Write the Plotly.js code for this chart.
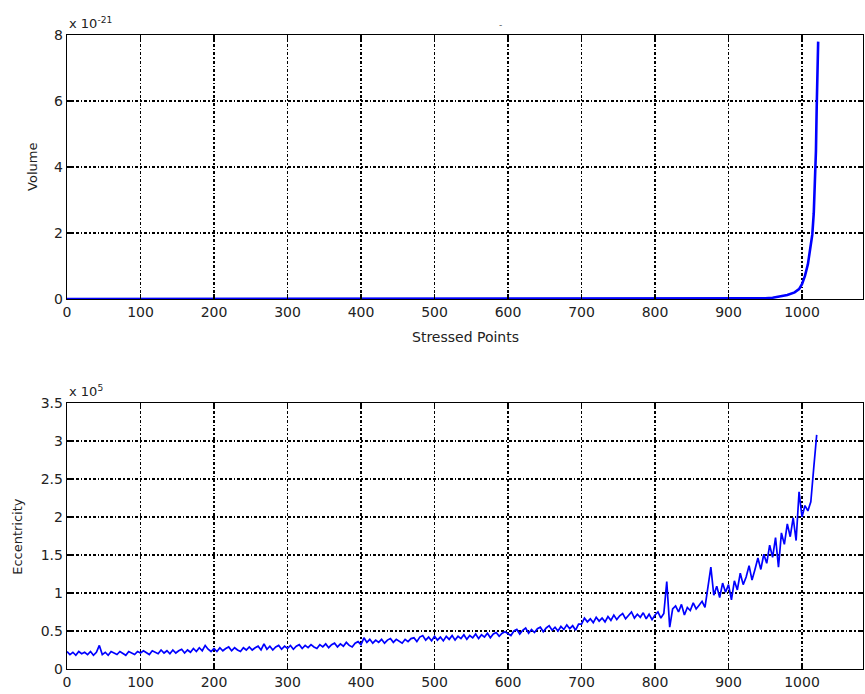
<!DOCTYPE html>
<html>
<head>
<meta charset="utf-8">
<script src="https://cdn.plot.ly/plotly-3.0.1.min.js"></script>
<style>html,body{margin:0;padding:0;background:#fff;}#chart{width:865px;height:694px;}</style>
</head>
<body>
<div id="chart"></div>
<script>
// ---- Data ----
// Top panel: Volume (units of 1e-21) versus stressed point index
const volumeX = [0, 100, 200, 300, 400, 500, 600, 700, 800, 900, 930, 950, 960, 970, 980, 990, 996, 1000, 1004, 1008, 1011, 1014, 1016, 1018, 1019, 1020, 1021, 1022];
const volumeY = [0, 0, 0, 0, 0, 0, 0, 0, 0, 0, 0.005, 0.02, 0.04, 0.07, 0.12, 0.2, 0.3, 0.45, 0.7, 1.05, 1.5, 1.95, 2.6, 3.6, 4.5, 5.8, 7.0, 7.8];

// Bottom panel: Eccentricity (units of 1e5), sampled every 4 stressed points from 0
const eccStart = 0;
const eccStep = 4;
const eccentricity = [
  0.23,0.19,0.22,0.18,0.23,0.20,0.22,0.19,0.23,0.18,0.22,0.31,0.19,0.22,0.18,0.23,0.21,0.19,0.23,0.21,0.18,0.23,0.21,0.19,0.23,
  0.21,0.24,0.21,0.19,0.24,0.22,0.20,0.25,0.21,0.24,0.20,0.25,0.21,0.24,0.26,0.21,0.25,0.22,0.27,0.23,0.28,0.24,0.31,0.26,0.23,
  0.27,0.23,0.28,0.24,0.27,0.29,0.24,0.28,0.25,0.23,0.28,0.25,0.29,0.25,0.28,0.30,0.25,0.33,0.26,0.30,0.25,0.29,0.31,0.26,0.30,
  0.27,0.31,0.26,0.30,0.32,0.27,0.31,0.28,0.32,0.29,0.27,0.32,0.29,0.33,0.28,0.32,0.34,0.29,0.33,0.30,0.35,0.31,0.29,0.34,0.36,
  0.32,0.41,0.35,0.39,0.34,0.38,0.35,0.39,0.34,0.38,0.40,0.35,0.39,0.36,0.34,0.39,0.36,0.40,0.41,0.36,0.42,0.44,0.38,0.42,0.37,
  0.43,0.38,0.42,0.37,0.43,0.39,0.44,0.38,0.43,0.40,0.45,0.39,0.44,0.41,0.46,0.40,0.45,0.42,0.47,0.41,0.46,0.48,0.43,0.47,0.49,
  0.46,0.44,0.50,0.52,0.46,0.51,0.54,0.47,0.52,0.48,0.53,0.55,0.49,0.54,0.57,0.51,0.55,0.50,0.56,0.52,0.58,0.53,0.57,0.51,0.59,
  0.59,0.67,0.62,0.66,0.61,0.68,0.63,0.67,0.62,0.69,0.64,0.71,0.65,0.70,0.73,0.66,0.71,0.75,0.67,0.72,0.68,0.74,0.66,0.72,0.65,
  0.71,0.75,0.67,0.73,1.15,0.55,0.79,0.83,0.75,0.85,0.71,0.81,0.77,0.87,0.79,0.84,0.89,0.81,1.10,1.34,0.97,1.09,0.94,1.13,1.01,
  1.11,0.91,1.16,1.04,1.26,1.11,1.21,1.36,1.17,1.31,1.46,1.31,1.51,1.39,1.63,1.47,1.73,1.34,1.79,1.64,1.91,1.74,1.99,1.69,2.33,
  2.00,2.15,2.08,2.20,2.65,3.08
];

const xTicks = [0, 100, 200, 300, 400, 500, 600, 700, 800, 900, 1000];
const volTicks = [0, 2, 4, 6, 8];
const eccTicks = [0, 0.5, 1, 1.5, 2, 2.5, 3, 3.5];
const eccTickText = ['0', '0.5', '1', '1.5', '2', '2.5', '3', '3.5'];

const eccX = eccentricity.map((_, i) => eccStart + i * eccStep);

const FONT = 'DejaVu Sans, Arial, sans-serif';
const gridDash = '3px,2px,1.5px,2px';

function axisBase() {
  return {
    showline: true, linecolor: '#000', linewidth: 1.3, mirror: 'ticks',
    ticks: 'inside', ticklen: 5, tickwidth: 1.5, tickcolor: '#000',
    showgrid: true, gridcolor: '#000', gridwidth: 1.2, griddash: gridDash,
    zeroline: false,
    tickfont: {family: FONT, size: 14, color: '#222'}
  };
}

const xAxisRange = [0, 1083];

const traces = [
  {x: volumeX, y: volumeY, type: 'scatter', mode: 'lines', line: {color: '#0000ff', width: 2.6}, xaxis: 'x', yaxis: 'y', hoverinfo: 'skip'},
  {x: eccX, y: eccentricity, type: 'scatter', mode: 'lines', line: {color: '#0000ff', width: 1.7}, xaxis: 'x2', yaxis: 'y2', hoverinfo: 'skip'}
];

const layout = {
  width: 865, height: 694,
  margin: {l: 67, r: 2, t: 35, b: 25},
  paper_bgcolor: '#fff', plot_bgcolor: '#fff',
  showlegend: false,
  font: {family: FONT, size: 14, color: '#222'},
  xaxis: Object.assign(axisBase(), {domain: [0, 1], anchor: 'y', range: xAxisRange, tickvals: xTicks, ticktext: xTicks.map(String)}),
  yaxis: Object.assign(axisBase(), {domain: [0.5836, 1], anchor: 'x', range: [0, 8], tickvals: volTicks, ticktext: volTicks.map(String)}),
  xaxis2: Object.assign(axisBase(), {domain: [0, 1], anchor: 'y2', range: xAxisRange, tickvals: xTicks, ticktext: xTicks.map(String)}),
  yaxis2: Object.assign(axisBase(), {domain: [0, 0.4196], anchor: 'x2', range: [0, 3.5], tickvals: eccTicks, ticktext: eccTickText}),
  annotations: [
    {text: 'x 10<sup>-21</sup>', xref: 'paper', yref: 'paper', x: 0, y: 1.0, xanchor: 'left', yanchor: 'bottom', yshift: 2, showarrow: false, font: {family: FONT, size: 13, color: '#222'}},
    {text: 'x 10<sup>5</sup>', xref: 'paper', yref: 'paper', x: 0, y: 0.4196, xanchor: 'left', yanchor: 'bottom', yshift: 2, showarrow: false, font: {family: FONT, size: 13, color: '#222'}},
    {text: 'Volume', xref: 'paper', yref: 'paper', x: -0.0427, y: 0.792, xanchor: 'center', yanchor: 'middle', textangle: -90, showarrow: false, font: {family: FONT, size: 13, color: '#222'}},
    {text: 'Eccentricity', xref: 'paper', yref: 'paper', x: -0.0616, y: 0.21, xanchor: 'center', yanchor: 'middle', textangle: -90, showarrow: false, font: {family: FONT, size: 13, color: '#222'}},
    {text: 'Stressed Points', xref: 'paper', yref: 'paper', x: 0.5, y: 0.5237, xanchor: 'center', yanchor: 'middle', showarrow: false, font: {family: FONT, size: 14, color: '#222'}},
    {text: '-', xref: 'paper', yref: 'paper', x: 0.544, y: 1.016, xanchor: 'center', yanchor: 'middle', showarrow: false, font: {family: FONT, size: 9, color: '#555'}}
  ]
};

Plotly.newPlot('chart', traces, layout, {displayModeBar: false, staticPlot: true});
</script>
</body>
</html>
